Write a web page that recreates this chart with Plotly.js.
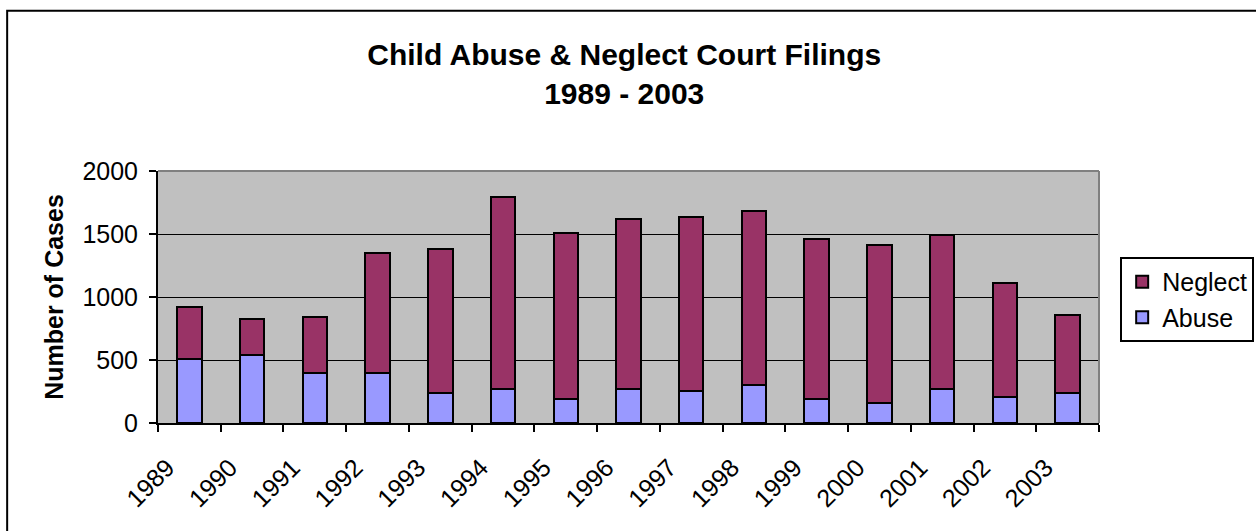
<!DOCTYPE html>
<html>
<head>
<meta charset="utf-8">
<script src="https://cdn.plot.ly/plotly-3.0.1.min.js"></script>
<style>
  html, body { margin: 0; padding: 0; background: #ffffff; }
  #chart { width: 1256px; height: 531px; }
</style>
</head>
<body>
<div id="chart"></div>
<script>
const years = ['1989','1990','1991','1992','1993','1994','1995','1996','1997','1998','1999','2000','2001','2002','2003'];
const abuse = [505, 537, 397, 397, 238, 270, 190, 270, 254, 302, 190, 159, 270, 206, 238];
const neglect = [415, 288, 444, 952, 1143, 1524, 1318, 1349, 1381, 1381, 1270, 1254, 1222, 905, 619];
const yTicks = [0, 500, 1000, 1500, 2000];

const FONT = 'Arial, "Liberation Sans", sans-serif';

const traces = [
  {
    type: 'bar', name: 'Abuse', x: years, y: abuse,
    marker: { color: '#9999FF', line: { color: '#000000', width: 2 } }
  },
  {
    type: 'bar', name: 'Neglect', x: years, y: neglect,
    marker: { color: '#993366', line: { color: '#000000', width: 2 } }
  }
];

const layout = {
  width: 1256, height: 531,
  margin: { l: 158, r: 157, t: 171, b: 108, pad: 0, autoexpand: false },
  paper_bgcolor: '#ffffff',
  plot_bgcolor: '#C0C0C0',
  barmode: 'stack',
  bargap: 0.61,
  font: { family: FONT, size: 25, color: '#000000' },
  title: {
    text: '<b>Child Abuse &amp; Neglect Court Filings<br>1989 - 2003</b>',
    font: { family: FONT, size: 30, color: '#000000' },
    x: 0.497, xref: 'container', xanchor: 'center',
    y: 1 - 65 / 531, yref: 'container', yanchor: 'top'
  },
  xaxis: {
    type: 'category',
    tickson: 'boundaries',
    ticks: 'outside', ticklen: 7, tickwidth: 2, tickcolor: '#000000',
    showline: true, linecolor: '#000000', linewidth: 2,
    tickangle: -45,
    tickfont: { family: FONT, size: 25, color: '#000000' },
    ticklabelshift: -22,
    ticklabelstandoff: 18,
    showgrid: false, zeroline: false, fixedrange: true
  },
  yaxis: {
    range: [0, 2000],
    tickvals: yTicks,
    ticktext: yTicks.map(String),
    ticks: 'outside', ticklen: 7, tickwidth: 2, tickcolor: '#000000',
    showline: true, linecolor: '#000000', linewidth: 2,
    showgrid: true, gridcolor: '#000000', gridwidth: 1,
    zeroline: false,
    tickfont: { family: FONT, size: 25, color: '#000000' },
    ticklabelstandoff: 6,
    title: { text: '<b>Number of Cases</b>', font: { family: FONT, size: 25, color: '#000000' }, standoff: 12 },
    fixedrange: true
  },
  legend: {
    x: 1.0225, xanchor: 'left', y: 0.659, yanchor: 'top',
    traceorder: 'reversed',
    bgcolor: '#ffffff', bordercolor: '#000000', borderwidth: 2,
    font: { family: FONT, size: 25, color: '#000000' }
  },
  shapes: [
    { type: 'line', xref: 'paper', yref: 'paper', x0: 0, x1: 1, y0: 1, y1: 1,
      line: { color: '#808080', width: 2 }, layer: 'above' },
    { type: 'line', xref: 'paper', yref: 'paper', x0: 1, x1: 1, y0: 0, y1: 1,
      line: { color: '#808080', width: 2 }, layer: 'above' },
    { type: 'rect', xref: 'paper', yref: 'paper', x0: -0.1603, x1: 1.35, y0: -0.6, y1: 1.6355,
      line: { color: '#000000', width: 2 }, fillcolor: 'rgba(0,0,0,0)', layer: 'above' }
  ],
  showlegend: true
};

Plotly.newPlot('chart', traces, layout, { displayModeBar: false, staticPlot: true });
</script>
</body>
</html>
